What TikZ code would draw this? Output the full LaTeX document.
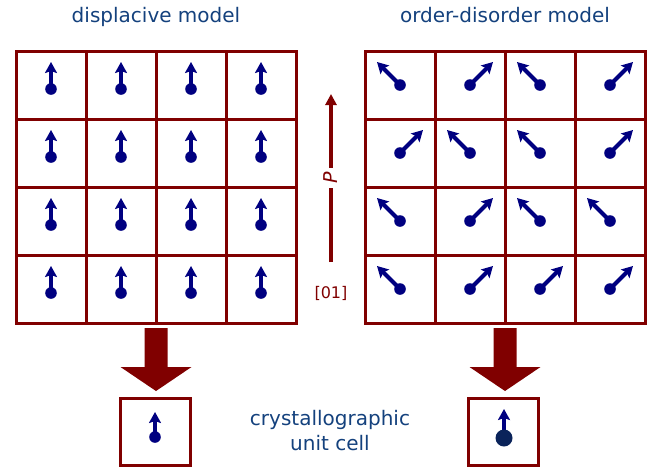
\documentclass[tikz,border=0pt]{standalone}
\usepackage{fontspec}
\setmainfont{DejaVu Sans}
\usetikzlibrary{arrows.meta,calc}
\definecolor{cellred}{RGB}{128,0,0}
\definecolor{dipblue}{RGB}{0,0,128}
\definecolor{titleblue}{RGB}{20,65,125}
\definecolor{darkdot}{RGB}{10,35,90}

\begin{document}
\begin{tikzpicture}[x=1pt,y=-1pt,
    cell/.style={draw=cellred, line width=3pt, minimum width=70pt, minimum height=68pt, inner sep=0pt},
    dipole/.style={dipblue, line width=4pt, -{Stealth[length=11pt,width=12pt,inset=2pt]}},
    title/.style={text=titleblue, font=\fontsize{20}{25}\selectfont},
    fatarrow/.style={fill=cellred}]
    \useasboundingbox (0,0) rectangle (648,467);

    % Titles
    \node[title, anchor=base] (tdisp) at (156,22) {displacive model};
    \node[title, anchor=base] (torder) at (505,22) {order-disorder model};

    % Displacive grid
    \foreach \r in {0,...,3}
      \foreach \c in {0,...,3} {
        \node[cell] (l-\r-\c) at (51+70*\c, 85+68*\r) {};
        \fill[dipblue] ($(l-\r-\c.center)+(0,4)$) circle (5.8);
        \draw[dipole] ($(l-\r-\c.center)+(0,4)$) -- ++(0,-27);
      }

    % Order-disorder grid (-1 = left, 1 = right)
    \foreach \s [count=\i from 0] in {-1,1,-1,1, 1,-1,-1,1, -1,1,-1,-1, -1,1,1,1} {
        \pgfmathtruncatemacro{\r}{\i/4}
        \pgfmathtruncatemacro{\c}{mod(\i,4)}
        \node[cell] (r-\r-\c) at (400+70*\c, 85+68*\r) {};
        \fill[dipblue] (r-\r-\c.center) circle (5.8);
        \draw[dipole] (r-\r-\c.center) -- ++(23*\s,-23);
      }

    % Polarisation
    \coordinate (pbot) at (331,262);
    \coordinate (ptop) at (331,94);
    \draw[cellred, line width=3.5pt, -{Triangle[length=11pt,width=11pt]}] (pbot) -- (ptop)
      node[midway, fill=white, rotate=90, text=cellred, inner sep=4pt, font=\fontsize{19}{20}\selectfont] (pol) {\textit{P}};
    \node[text=cellred, font=\fontsize{16}{18}\selectfont] (dir) at (331,293) {[01]};

    % Big arrows
    \coordinate (la) at (156,328);
    \coordinate (ra) at (505,328);
    \foreach \a in {la,ra}
      \fill[fatarrow, shift={(\a)}] (-11.5,0) -- (11.5,0) -- (11.5,39) -- (35.5,39)
        -- (0,63) -- (-35.5,39) -- (-11.5,39) -- cycle;

    % Unit cells
    \node[cell, minimum height=67pt] (lbox) at (155,431.5) {};
    \node[cell, minimum height=67pt] (rbox) at (503,431.5) {};
    \fill[dipblue] ($(lbox.center)+(0,5.5)$) circle (5.8);
    \draw[dipole] ($(lbox.center)+(0,5.5)$) -- ++(0,-25);
    \draw[dipole] ($(rbox.center)+(1,6.5)$) -- ++(0,-29);
    \fill[darkdot] ($(rbox.center)+(1,6.5)$) circle (8.5);

    \node[title, align=center] (ucell) at (330,431) {crystallographic\\unit cell};
\end{tikzpicture}
\end{document}
